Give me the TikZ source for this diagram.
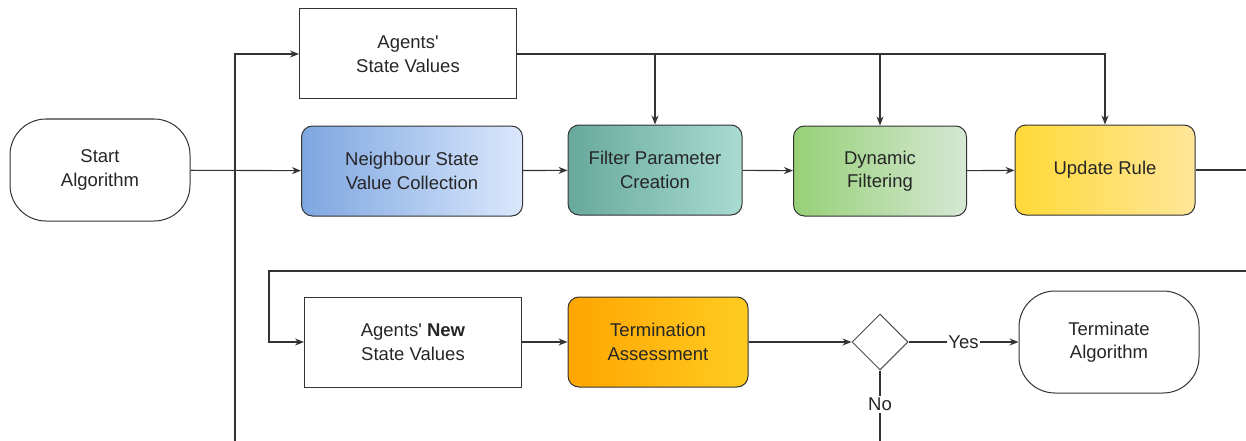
\documentclass[tikz,border=0pt]{standalone}
\usepackage{fontspec}
\setmainfont{Liberation Sans}
\usetikzlibrary{arrows.meta,shapes.geometric}

\definecolor{blueL}{HTML}{7EA6E0}
\definecolor{blueR}{HTML}{DAE8FC}
\definecolor{tealL}{HTML}{67A99B}
\definecolor{tealR}{HTML}{A9DBD2}
\definecolor{greenL}{HTML}{97D077}
\definecolor{greenR}{HTML}{D5E8D4}
\definecolor{yellowL}{HTML}{FFD938}
\definecolor{yellowR}{HTML}{FFE699}
\definecolor{orangeL}{HTML}{FFA500}
\definecolor{orangeR}{HTML}{FFCC22}
\newcommand\apos{\textquotesingle}

\begin{document}
\begin{tikzpicture}[x=1pt,y=-1pt,
    font=\fontsize{18.5}{23.5}\selectfont,
    line/.style={draw=black!80, line width=1.1pt},
    arr/.style={line, -{Stealth[length=9pt,width=7pt]}},
    plain/.style={draw=black!80, line width=1pt, minimum width=217pt,
      minimum height=90pt, align=center, text=black!85},
    term/.style={draw=black!80, line width=1pt, rounded corners=36pt,
      minimum width=180pt, minimum height=102pt, align=center, text=black!85},
    task/.style={draw=black!80, line width=1pt, rounded corners=11pt,
      minimum height=90pt, align=center, text=black!85},
  ]
  \useasboundingbox (0,0) rectangle (1246,441);
  \clip (0,0) rectangle (1246,441);

  % first row
  \node[term] (start) at (100,170) {Start\\Algorithm};
  \node[plain] (agents) at (408,54) {Agents\apos\\State Values};
  \node[task, minimum width=221pt, left color=blueL, right color=blueR]
    (collect) at (412,171) {Neighbour State\\Value Collection};
  \node[task, minimum width=174pt, left color=tealL, right color=tealR]
    (param) at (655,170) {Filter Parameter\\Creation};
  \node[task, minimum width=173pt, left color=greenL, right color=greenR]
    (dynfilt) at (880,171) {Dynamic\\Filtering};
  \node[task, minimum width=180pt, left color=yellowL, right color=yellowR]
    (update) at (1105,170) {Update Rule};

  % second row
  \node[plain] (newstate) at (413,342) {Agents\apos{} \textbf{New}\\State Values};
  \node[task, minimum width=180pt, left color=orangeL, right color=orangeR]
    (assess) at (658,342) {Termination\\Assessment};
  \node[diamond, draw=black!70, line width=1pt, minimum size=56pt, inner sep=0pt]
    (check) at (880,342) {};
  \node[term] (stop) at (1109,342) {Terminate\\Algorithm};

  \coordinate (feed) at (235,460);
  \coordinate (turnR) at (1262,271);
  \coordinate (turnL) at (269,271);
  \coordinate (noend) at (880,460);

  % connectors
  \draw[arr] (feed) |- (agents.west);
  \draw[arr] (start) -- (collect);
  \draw[arr] (collect) -- (param);
  \draw[arr] (param) -- (dynfilt);
  \draw[arr] (dynfilt) -- (update);
  \foreach \n in {param,dynfilt,update}
    \draw[arr] (agents.east) -| (\n.north);
  \draw[arr] (update.east) -| (turnR) -- (turnL) |- (newstate.west);
  \draw[arr] (newstate) -- (assess);
  \draw[arr] (assess) -- (check);
  \draw[arr] (check) -- node[fill=white, inner sep=1pt, text=black!85] {Yes} (stop);
  \draw[line] (check) -- node[fill=white, pos=0.38, inner sep=2pt, text=black!85] {No} (noend);
\end{tikzpicture}
\end{document}
